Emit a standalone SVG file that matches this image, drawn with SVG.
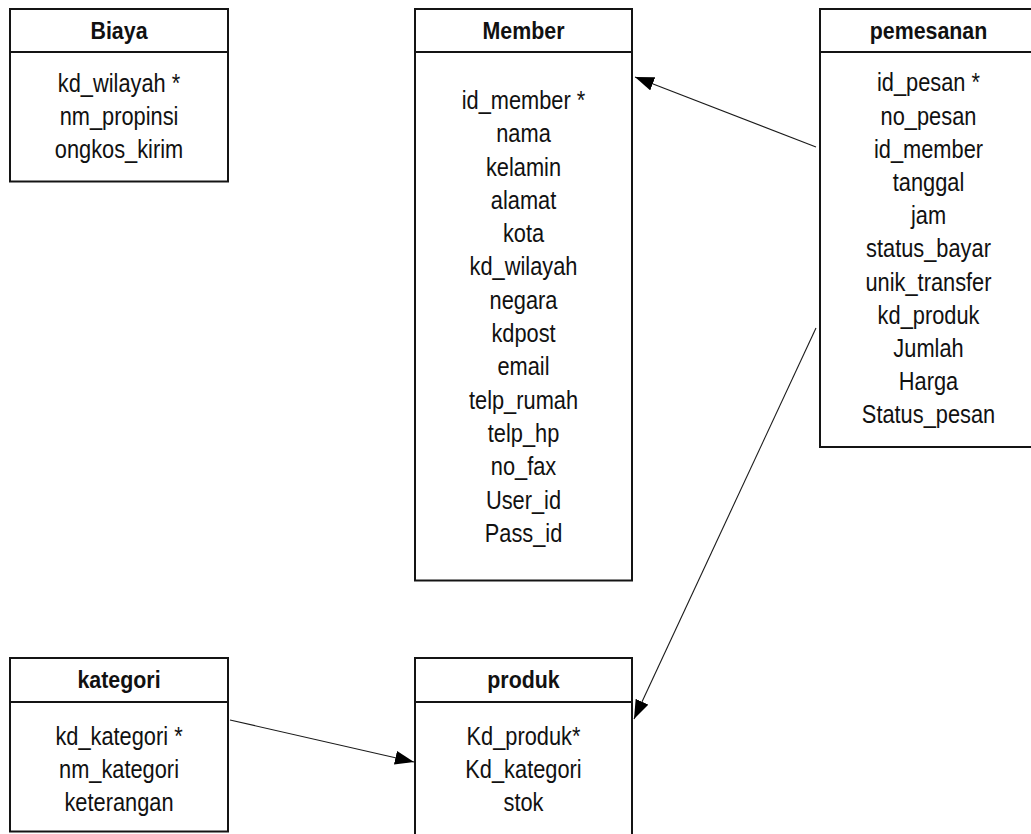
<svg xmlns="http://www.w3.org/2000/svg" width="1031" height="834" viewBox="0 0 1031 834">
  <style>
    .box { fill: #ffffff; stroke: #141414; stroke-width: 2; }
    .sep { stroke: #141414; stroke-width: 2; }
    .title { font-family: "Liberation Sans", Arial, sans-serif; font-size: 23.5px; font-weight: bold; fill: #111; text-anchor: middle; }
    .attr { font-family: "Liberation Sans", Arial, sans-serif; font-size: 25.5px; fill: #111; text-anchor: middle; }
    .link { stroke: #1a1a1a; stroke-width: 1.1; fill: none; marker-end: url(#arrow); }
  </style>
  <defs>
    <marker id="arrow" markerUnits="userSpaceOnUse" markerWidth="20" markerHeight="14" refX="19" refY="7" orient="auto">
      <path d="M0,0 L19,7 L0,14 Z" fill="#000"/>
    </marker>
  </defs>
  <rect width="1031" height="834" fill="#ffffff"/>

  <!-- Biaya -->
  <g id="biaya">
    <rect class="box" x="10" y="9" width="218" height="172.5"/>
    <line class="sep" x1="10" y1="52" x2="228" y2="52"/>
    <g transform="translate(119 0) scale(0.91 1)"><text class="title" x="0" y="39">Biaya</text></g>
    <g transform="translate(119 0) scale(0.855 1)">
      <text class="attr" x="0" y="92">kd_wilayah *</text>
      <text class="attr" x="0" y="125.2">nm_propinsi</text>
      <text class="attr" x="0" y="158.4">ongkos_kirim</text>
    </g>
  </g>

  <!-- Member -->
  <g id="member">
    <rect class="box" x="415" y="9" width="217" height="571.5"/>
    <line class="sep" x1="415" y1="52" x2="632" y2="52"/>
    <g transform="translate(523.5 0) scale(0.91 1)"><text class="title" x="0" y="39">Member</text></g>
    <g transform="translate(523.5 0) scale(0.855 1)">
      <text class="attr" x="0" y="109">id_member *</text>
      <text class="attr" x="0" y="142.3">nama</text>
      <text class="attr" x="0" y="175.6">kelamin</text>
      <text class="attr" x="0" y="208.9">alamat</text>
      <text class="attr" x="0" y="242.2">kota</text>
      <text class="attr" x="0" y="275.5">kd_wilayah</text>
      <text class="attr" x="0" y="308.8">negara</text>
      <text class="attr" x="0" y="342.1">kdpost</text>
      <text class="attr" x="0" y="375.4">email</text>
      <text class="attr" x="0" y="408.7">telp_rumah</text>
      <text class="attr" x="0" y="442">telp_hp</text>
      <text class="attr" x="0" y="475.3">no_fax</text>
      <text class="attr" x="0" y="508.6">User_id</text>
      <text class="attr" x="0" y="541.9">Pass_id</text>
    </g>
  </g>

  <!-- pemesanan -->
  <g id="pemesanan">
    <rect class="box" x="820" y="9" width="217" height="438"/>
    <line class="sep" x1="820" y1="52" x2="1037" y2="52"/>
    <g transform="translate(928.5 0) scale(0.91 1)"><text class="title" x="0" y="39">pemesanan</text></g>
    <g transform="translate(928.5 0) scale(0.855 1)">
      <text class="attr" x="0" y="91.5">id_pesan *</text>
      <text class="attr" x="0" y="124.7">no_pesan</text>
      <text class="attr" x="0" y="157.9">id_member</text>
      <text class="attr" x="0" y="191.1">tanggal</text>
      <text class="attr" x="0" y="224.3">jam</text>
      <text class="attr" x="0" y="257.5">status_bayar</text>
      <text class="attr" x="0" y="290.7">unik_transfer</text>
      <text class="attr" x="0" y="323.9">kd_produk</text>
      <text class="attr" x="0" y="357.1">Jumlah</text>
      <text class="attr" x="0" y="390.3">Harga</text>
      <text class="attr" x="0" y="423.5">Status_pesan</text>
    </g>
  </g>

  <!-- kategori -->
  <g id="kategori">
    <rect class="box" x="10" y="658" width="218" height="173.5"/>
    <line class="sep" x1="10" y1="702" x2="228" y2="702"/>
    <g transform="translate(119 0) scale(0.91 1)"><text class="title" x="0" y="688">kategori</text></g>
    <g transform="translate(119 0) scale(0.855 1)">
      <text class="attr" x="0" y="745">kd_kategori *</text>
      <text class="attr" x="0" y="778">nm_kategori</text>
      <text class="attr" x="0" y="811">keterangan</text>
    </g>
  </g>

  <!-- produk -->
  <g id="produk">
    <rect class="box" x="415" y="658" width="217" height="200"/>
    <line class="sep" x1="415" y1="702" x2="632" y2="702"/>
    <g transform="translate(523.5 0) scale(0.91 1)"><text class="title" x="0" y="688">produk</text></g>
    <g transform="translate(523.5 0) scale(0.855 1)">
      <text class="attr" x="0" y="745">Kd_produk*</text>
      <text class="attr" x="0" y="778">Kd_kategori</text>
      <text class="attr" x="0" y="811">stok</text>
    </g>
  </g>

  <!-- relations -->
  <g id="connectors">
    <line class="link" x1="816" y1="147" x2="635" y2="77"/>
    <line class="link" x1="816" y1="328" x2="634" y2="719"/>
    <line class="link" x1="230" y1="720" x2="414" y2="762"/>
  </g>
</svg>
